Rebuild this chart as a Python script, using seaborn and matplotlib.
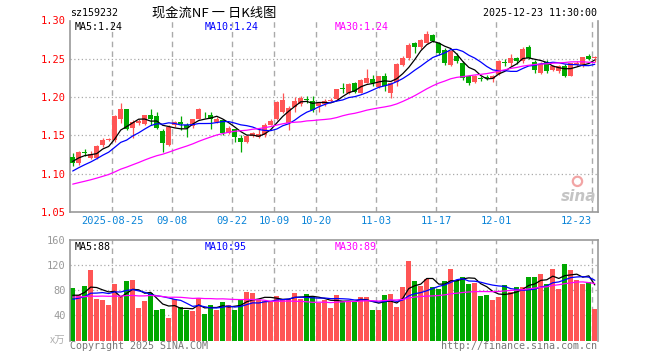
import numpy as np
import pandas as pd
import matplotlib
matplotlib.use("Agg")
import matplotlib.pyplot as plt
import seaborn as sns

# daily bars, 2025-08-14 .. 2025-12-23 (88 trading days)
opens = [1.122, 1.114, 1.128, 1.121, 1.121, 1.137, 1.144, 1.144, 1.171, 1.184,
         1.160, 1.166, 1.165, 1.176, 1.175, 1.156, 1.137, 1.163, 1.168, 1.164,
         1.162, 1.172, 1.177, 1.176, 1.168, 1.170, 1.153, 1.158, 1.147, 1.142,
         1.149, 1.148, 1.150, 1.164, 1.172, 1.181, 1.166, 1.187, 1.191, 1.197,
         1.195, 1.188, 1.191, 1.195, 1.197, 1.212, 1.206, 1.218, 1.206, 1.219,
         1.223, 1.213, 1.227, 1.205, 1.220, 1.242, 1.251, 1.271, 1.265, 1.271,
         1.281, 1.271, 1.262, 1.242, 1.254, 1.244, 1.227, 1.220, 1.225, 1.226,
         1.224, 1.230, 1.245, 1.244, 1.251, 1.247, 1.266, 1.246, 1.232, 1.246,
         1.236, 1.234, 1.241, 1.228, 1.242, 1.240, 1.254, 1.251]
highs = [1.127, 1.130, 1.132, 1.129, 1.137, 1.146, 1.147, 1.176, 1.192, 1.185,
         1.170, 1.172, 1.177, 1.184, 1.180, 1.158, 1.163, 1.169, 1.175, 1.166,
         1.172, 1.186, 1.181, 1.180, 1.174, 1.172, 1.162, 1.159, 1.150, 1.151,
         1.155, 1.158, 1.166, 1.171, 1.195, 1.205, 1.188, 1.200, 1.201, 1.202,
         1.202, 1.193, 1.197, 1.199, 1.211, 1.218, 1.218, 1.220, 1.223, 1.237,
         1.229, 1.228, 1.231, 1.220, 1.244, 1.254, 1.270, 1.272, 1.276, 1.286,
         1.283, 1.272, 1.264, 1.262, 1.257, 1.247, 1.229, 1.229, 1.228, 1.229,
         1.229, 1.248, 1.250, 1.256, 1.253, 1.265, 1.268, 1.249, 1.246, 1.248,
         1.242, 1.242, 1.243, 1.245, 1.247, 1.253, 1.256, 1.254]
lows = [1.110, 1.112, 1.123, 1.119, 1.119, 1.135, 1.143, 1.141, 1.166, 1.157,
        1.146, 1.163, 1.163, 1.164, 1.158, 1.128, 1.136, 1.161, 1.157, 1.148,
        1.160, 1.171, 1.173, 1.158, 1.166, 1.151, 1.152, 1.141, 1.128, 1.140,
        1.148, 1.146, 1.148, 1.163, 1.170, 1.179, 1.157, 1.180, 1.188, 1.192,
        1.180, 1.180, 1.188, 1.193, 1.196, 1.206, 1.204, 1.205, 1.205, 1.218,
        1.214, 1.212, 1.208, 1.199, 1.215, 1.240, 1.249, 1.257, 1.263, 1.270,
        1.272, 1.255, 1.242, 1.240, 1.245, 1.222, 1.216, 1.218, 1.221, 1.222,
        1.220, 1.229, 1.241, 1.241, 1.243, 1.245, 1.250, 1.232, 1.230, 1.232,
        1.234, 1.232, 1.226, 1.227, 1.240, 1.239, 1.249, 1.246]
closes = [1.114, 1.128, 1.127, 1.126, 1.136, 1.144, 1.145, 1.175, 1.185, 1.159,
          1.168, 1.169, 1.176, 1.171, 1.160, 1.140, 1.161, 1.167, 1.165, 1.160,
          1.171, 1.184, 1.176, 1.172, 1.172, 1.153, 1.160, 1.148, 1.142, 1.149,
          1.153, 1.152, 1.164, 1.169, 1.193, 1.196, 1.186, 1.195, 1.199, 1.196,
          1.183, 1.192, 1.195, 1.196, 1.210, 1.211, 1.217, 1.207, 1.222, 1.225,
          1.218, 1.227, 1.214, 1.218, 1.243, 1.251, 1.268, 1.265, 1.275, 1.283,
          1.273, 1.257, 1.244, 1.260, 1.247, 1.225, 1.218, 1.227, 1.224, 1.225,
          1.228, 1.247, 1.244, 1.251, 1.247, 1.263, 1.251, 1.235, 1.243, 1.234,
          1.240, 1.240, 1.228, 1.244, 1.245, 1.252, 1.250, 1.252]
# volume, unit 万
volumes = [83.5, 72.8, 86.0, 112.8, 66.4, 64.8, 56.8, 90.4, 68.5, 95.2,
           96.8, 52.5, 63.2, 75.5, 48.8, 50.4, 36.5, 66.4, 53.6, 48.8,
           47.2, 67.5, 42.4, 56.8, 48.8, 61.6, 56.8, 48.8, 63.7, 77.6,
           75.5, 64.8, 62.1, 63.2, 71.2, 66.4, 66.4, 75.5, 66.4, 74.4,
           69.0, 59.5, 64.8, 52.5, 72.8, 63.2, 61.0, 61.0, 70.0, 69.0,
           48.8, 48.8, 72.8, 74.4, 53.6, 85.6, 127.2, 95.2, 87.2, 98.4,
           85.6, 82.4, 95.2, 114.4, 96.8, 101.6, 90.4, 92.0, 71.2, 72.8,
           64.8, 69.0, 88.8, 78.0, 85.6, 85.6, 100.5, 100.5, 106.4, 90.4,
           114.4, 82.4, 122.4, 112.8, 96.0, 90.4, 93.0, 50.4]

# earlier closes / volumes, only used so the moving averages start where they do
close_hist = [1.070, 1.072, 1.068, 1.071, 1.074, 1.073, 1.076, 1.075, 1.078, 1.077,
              1.080, 1.079, 1.082, 1.081, 1.080, 1.083, 1.082, 1.085, 1.084, 1.086,
              1.085, 1.088, 1.090, 1.094, 1.098, 1.105, 1.112, 1.120, 1.129]
vol_hist = [62, 75, 88, 70, 58, 66, 81, 73, 64, 92, 77, 60, 55, 68, 84, 71, 63, 59, 74, 75,
            55, 62, 58, 64, 57, 72, 64, 70.5, 70]

tick_pos = [7, 17, 27, 34, 41, 51, 61, 71, 87]
tick_labels = ["2025-08-25", "09-08", "09-22", "10-09", "10-20", "11-03", "11-17", "12-01", "12-23"]
price_ticks = [1.05, 1.10, 1.15, 1.20, 1.25, 1.30]
vol_ticks = [40, 80, 120, 160]
ma_windows = [5, 10, 30]
ma_colors = ["black", "#0000ff", "#ff00ff"]
price_ma_text = ["MA5:1.24", "MA10:1.24", "MA30:1.24"]
vol_ma_text = ["MA5:88", "MA10:95", "MA30:89"]

sns.set_style("white")
plt.rcParams['font.family'] = ['DejaVu Sans Mono', 'Noto Sans CJK SC']

RED = '#ff5555'
GREEN = '#00a800'
GRID = '#aaaaaa'
SPINE = '#999999'
BLUE_TXT = '#0a84d8'
FS = 7.2

o = np.array(opens); h = np.array(highs); l = np.array(lows); c = np.array(closes)
v = np.array(volumes)
n = len(c)
x = np.arange(n)
colors = np.where(c >= o, RED, GREEN)

close_all = pd.Series(np.r_[close_hist, c])
vol_all = pd.Series(np.r_[vol_hist, v])
k = len(close_hist)
price_ma = [close_all.rolling(w).mean().to_numpy()[k:] for w in ma_windows]
vol_ma = [vol_all.rolling(w).mean().to_numpy()[k:] for w in ma_windows]

W, H = 660, 360
def rect(left, top, right, bottom):
    return [left / W, 1 - bottom / H, (right - left) / W, (bottom - top) / H]

fig = plt.figure(figsize=(6.6, 3.6), dpi=100)
ax = fig.add_axes(rect(70, 20.5, 597.5, 212))
axv = fig.add_axes(rect(70, 240, 597.5, 340.5))

# price panel
for y in price_ticks[1:-1]:
    ax.axhline(y, color=GRID, ls=(0, (1, 2)), lw=0.9, zorder=0)
for t in tick_pos:
    ax.axvline(t - 0.45, color=GRID, ls=(0, (4, 3)), lw=1.0, zorder=0)
ax.vlines(x, l, h, colors=colors, lw=0.9, zorder=2)
ax.bar(x, np.maximum(np.abs(c - o), 0.0012), bottom=np.minimum(o, c), width=0.78,
       color=colors, lw=0, zorder=3)
for ma, col in zip(price_ma, ma_colors):
    sns.lineplot(x=x, y=ma, color=col, lw=0.9, ax=ax, zorder=4)
ax.set_xlim(-0.45, n - 1 + 0.45)
ax.set_ylim(1.05, 1.30)
ax.set_xticks([])
ax.set_yticks(price_ticks)
ax.set_yticklabels([f"{p:.2f}" for p in price_ticks], color='#ff0000')
ax.tick_params(axis='y', length=0, pad=3, labelsize=7.5)
ax.set_xlabel(""); ax.set_ylabel("")
for s in ['left', 'right', 'bottom']:
    ax.spines[s].set_color(SPINE); ax.spines[s].set_linewidth(1.2)
ax.spines['top'].set_visible(False)

for t, lab in zip(tick_pos, tick_labels):
    ha = 'right' if t == tick_pos[-1] else 'center'
    ax.annotate(lab, xy=(t - 0.45, 0), xycoords=('data', 'axes fraction'),
                xytext=(0, -3), textcoords='offset points', ha=ha, va='top',
                fontsize=7.5, color=BLUE_TXT)

# sina watermark
ax.text(0.965, 0.04, "sina", transform=ax.transAxes, ha='center', va='bottom',
        fontsize=11, fontweight='bold', style='italic', color='#c4c4c4', family='DejaVu Sans')
ax.scatter([0.962], [0.16], transform=ax.transAxes, s=45, facecolor='none',
           edgecolor='#f2a5a5', lw=1.6, zorder=1)

# volume panel
for y in vol_ticks[:-1]:
    axv.axhline(y, color=GRID, ls=(0, (1, 2)), lw=0.9, zorder=0)
for t in tick_pos:
    axv.axvline(t - 0.45, color=GRID, ls=(0, (4, 3)), lw=1.0, zorder=0)
axv.bar(x, v, width=0.83, color=colors, lw=0, zorder=2)
for ma, col in zip(vol_ma, ma_colors):
    sns.lineplot(x=x, y=ma, color=col, lw=0.9, ax=axv, zorder=4)
axv.set_xlim(-0.45, n - 1 + 0.45)
axv.set_ylim(0, 160)
axv.set_xticks([])
axv.set_yticks(vol_ticks)
axv.set_yticklabels([str(t) for t in vol_ticks], color='#999999')
axv.tick_params(axis='y', length=0, pad=3, labelsize=7.5)
axv.set_xlabel(""); axv.set_ylabel("")
for s in ['left', 'right', 'top']:
    axv.spines[s].set_color(SPINE); axv.spines[s].set_linewidth(1.2)
axv.spines['bottom'].set_visible(False)
axv.text(-0.008, 0.0, "x万", transform=axv.transAxes, ha='right', va='center',
         fontsize=7.5, color='#b0b0b0', family=['Noto Sans CJK SC', 'DejaVu Sans'])

# header and labels
def ftext(px, py, s, **kw):
    fig.text(px / W, 1 - py / H, s, **kw)

ftext(70, 13, "sz159232", ha='left', va='center', fontsize=FS, color='black')
ftext(214, 13, "现金流NF 一 日K线图", ha='center', va='center', fontsize=9.5,
      color='black', family=['Noto Sans CJK SC', 'DejaVu Sans'])
ftext(597, 13, "2025-12-23 11:30:00", ha='right', va='center', fontsize=FS, color='black')
for px, s, col in zip([75, 205, 335], price_ma_text, ma_colors):
    ftext(px, 27, s, ha='left', va='center', fontsize=FS, color=col)
for px, s, col in zip([75, 205, 335], vol_ma_text, ma_colors):
    ftext(px, 247, s, ha='left', va='center', fontsize=FS, color=col)
ftext(70, 346, "Copyright 2025 SINA.COM", ha='left', va='center', fontsize=FS, color='#777777')
ftext(597, 346, "http://finance.sina.com.cn", ha='right', va='center', fontsize=FS, color='#777777')

fig.savefig("out.png", dpi=100)
